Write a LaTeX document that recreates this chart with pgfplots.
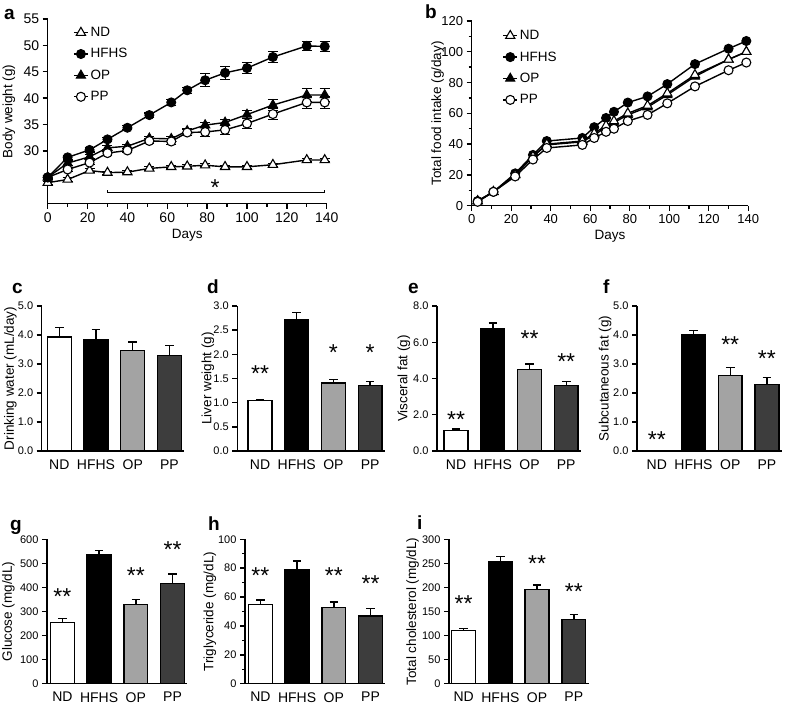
\documentclass[border=0pt]{standalone}
\usepackage{pgfplots}
\usepackage{pgfplotstable}
\pgfplotsset{compat=1.18}
\usepackage{fontspec}
\setmainfont{Liberation Sans}
\definecolor{opgray}{HTML}{A3A3A3}
\definecolor{ppgray}{HTML}{3D3D3D}
\newcommand{\fs}[1]{\fontsize{#1}{#1}\selectfont}
\tikzset{sigstar/.style={font=\fs{23}, anchor=base, yshift=-12.5pt, inner sep=0pt}}
\pgfplotsset{
  base/.style={
    scale only axis, anchor=south west, clip=false,
    axis x line*=bottom, axis y line*=left,
    axis line style={line width=1.4pt, black},
    tick style={line width=1.4pt, black},
    tick align=outside, major tick length=5pt, minor tick length=3pt,
    /pgf/number format/assume math mode=true,
    ticklabel style={font=\fs{13.5}},
    label style={font=\fs{13.5}},
    ylabel style={anchor=center},
  },
  ndst/.style={black, line width=1.4pt, mark=triangle*, mark size=5.3pt, mark options={fill=white, line width=1.1pt, solid}},
  hfst/.style={black, line width=1.4pt, mark=*, mark size=4.5pt, mark options={fill=black, line width=1pt}},
  opst/.style={black, line width=1.4pt, mark=triangle*, mark size=5.3pt, mark options={fill=black, line width=1pt}},
  ppst/.style={black, line width=1.4pt, mark=*, mark size=4.5pt, mark options={fill=white, line width=1.1pt}},
  errst/.style={error bars/.cd, y dir=both, y explicit, error bar style={line width=1.1pt, black}, error mark options={rotate=90, mark size=5pt, line width=1.1pt, black}},
  linep/.style={base,
    xmin=0, xmax=140, xtick={0,20,...,140}, minor xtick={10,30,...,130},
    xlabel={Days},
    legend cell align=left,
    legend image code/.code={\draw[mark repeat=2,mark phase=2,##1] plot coordinates {(0pt,0pt) (7pt,0pt) (14pt,0pt)};},
    legend style={draw=none, fill=none, anchor=north west, font=\fs{13.5}, row sep=6.5pt,
      /tikz/every even column/.append style={column sep=7pt}},
  },
  barp/.style={base, ybar, bar width=0.65, bar shift=0pt, height=145pt, ymin=0, xmax=3.4,
    xtick={0,1,2,3}, xticklabels={ND,HFHS,OP,PP}, xtick style={draw=none},
    yticklabel style={font=\fs{11}}, xticklabel style={font=\fs{14}},
  },
  bst/.style={draw=black, line width=1.4pt, fill=#1,
    error bars/.cd, y dir=plus, y explicit, error bar style={line width=1.4pt, black},
    error mark options={rotate=90, mark size=4.3pt, line width=1.4pt, black}},
  dec/.style={yticklabel style={/pgf/number format/.cd, fixed, fixed zerofill, precision=1}},
}
\pgfplotstableread{
day nd end hf ehf op eop pp epp
0 24.0 0.3 25.0 0.3 25.0 0.3 25.0 0.3
10 24.6 0.3 28.8 0.4 27.7 0.4 26.5 0.4
21 26.3 0.3 30.2 0.4 28.9 0.4 27.8 0.4
30 25.9 0.3 32.2 0.4 30.6 0.4 29.6 0.4
40 26.0 0.3 34.4 0.4 30.9 0.4 30.1 0.4
51 26.7 0.3 36.8 0.4 32.4 0.4 31.9 0.4
62 27.0 0.3 39.2 0.5 32.3 0.5 31.8 0.6
70 27.1 0.3 41.5 0.6 33.8 0.5 33.5 0.6
79 27.3 0.3 43.4 1.2 34.9 0.5 33.6 0.8
89 27.0 0.3 44.8 1.2 35.4 0.6 34.0 0.8
100 27.0 0.3 45.7 1.1 36.9 0.8 35.2 0.9
113 27.4 0.3 47.8 1.0 38.7 1.0 37.0 1.0
130 28.3 0.3 49.9 0.9 40.6 1.2 39.2 1.1
139 28.3 0.3 49.8 0.9 40.6 1.2 39.2 1.1
}\dataA
\pgfplotstableread{
day nd hf op pp
3 3 3 3 2.5
11 9 9 9 9
22 20 21 20 19
31 32 33 32 30
38 40 42 39.5 37.5
56 42 44 41.5 39.5
62 47 51 46 44
68 52 57 51 48
72 55 61 54 50
79 60 67 59 55
89 65 71 64 59
99 73 79 72 66.5
113 85 92 84 77.5
130 95 102 95 88
139 100 107 100 93
}\dataB
\begin{document}
\begin{tikzpicture}[x=1pt,y=1pt]
\useasboundingbox (0,0) rectangle (787,709);
% ---------- a ----------
\begin{axis}[linep, at={(47.7pt,505.2pt)}, width=279pt, height=184.8pt,
  ymin=20, ymax=55, ytick={30,35,...,55},
  ticklabel style={font=\fs{14}},
  ylabel={Body weight (g)},
  ylabel style={at={(axis description cs:-0.139,0.5)}},
  legend style={at={(axis description cs:0.08,0.978)}},
]
\addlegendimage{ndst}\addlegendentry{ND}
\addlegendimage{hfst}\addlegendentry{HFHS}
\addlegendimage{opst}\addlegendentry{OP}
\addlegendimage{ppst}\addlegendentry{PP}
\addplot[forget plot, ndst, errst] table[x=day, y=nd, y error=end] {\dataA};
\addplot[forget plot, opst, errst] table[x=day, y=op, y error=eop] {\dataA};
\addplot[forget plot, ppst, errst] table[x=day, y=pp, y error=epp] {\dataA};
\addplot[forget plot, hfst, errst] table[x=day, y=hf, y error=ehf] {\dataA};
\draw[line width=1.3pt] (axis cs:30,22.6) -- (axis cs:30,22.1) -- (axis cs:139,22.1) -- (axis cs:139,22.6);
\node[sigstar] at (axis cs:84,23.9) {*};
\end{axis}
% ---------- b ----------
\begin{axis}[linep, at={(471.7pt,503.3pt)}, width=276.6pt, height=184.7pt,
  ymin=0, ymax=120, ytick={0,20,...,120}, minor ytick={10,30,...,110},
  ticklabel style={font=\fs{13}},
  ylabel={Total food intake (g/day)},
  ylabel style={at={(axis description cs:-0.123,0.5)}},
  legend style={at={(axis description cs:0.1,0.972)}},
]
\addlegendimage{ndst}\addlegendentry{ND}
\addlegendimage{hfst}\addlegendentry{HFHS}
\addlegendimage{opst}\addlegendentry{OP}
\addlegendimage{ppst}\addlegendentry{PP}
\addplot[forget plot, hfst] table[x=day, y=hf] {\dataB};
\addplot[forget plot, opst] table[x=day, y=op] {\dataB};
\addplot[forget plot, ndst] table[x=day, y=nd] {\dataB};
\addplot[forget plot, ppst] table[x=day, y=pp] {\dataB};
\end{axis}
% ---------- c ----------
\begin{axis}[barp, dec, at={(41.7pt,258pt)}, width=142.4pt, xmin=-0.48, xmax=3.4,
  ymax=5, ytick={0,1,...,5},
  ylabel={Drinking water (mL/day)},
  ylabel style={at={(axis description cs:-0.22,0.5)}}]
\addplot[bst=white] coordinates {(0,3.93) +- (0,0.32)};
\addplot[bst=black] coordinates {(1,3.85) +- (0,0.33)};
\addplot[bst=opgray] coordinates {(2,3.47) +- (0,0.29)};
\addplot[bst=ppgray] coordinates {(3,3.30) +- (0,0.33)};
\end{axis}
% ---------- d ----------
\begin{axis}[barp, dec, at={(237.3pt,258pt)}, width=147.5pt, xmin=-0.62, xmax=3.4,
  ymax=3, ytick={0,0.5,...,3},
  ylabel={Liver weight (g)},
  ylabel style={at={(axis description cs:-0.2,0.5)}}]
\addplot[bst=white] coordinates {(0,1.04) +- (0,0.03)};
\addplot[bst=black] coordinates {(1,2.71) +- (0,0.15)};
\addplot[bst=opgray] coordinates {(2,1.41) +- (0,0.07)};
\addplot[bst=ppgray] coordinates {(3,1.36) +- (0,0.08)};
\node[sigstar] at (axis cs:0,1.69) {**};
\node[sigstar] at (axis cs:2,2.14) {*};
\node[sigstar] at (axis cs:3,2.14) {*};
\end{axis}
% ---------- e ----------
\begin{axis}[barp, dec, at={(437pt,258pt)}, width=143.9pt, xmin=-0.52, xmax=3.4,
  ymax=8, ytick={0,2,...,8},
  ylabel={Visceral fat (g)},
  ylabel style={at={(axis description cs:-0.23,0.5)}}]
\addplot[bst=white] coordinates {(0,1.12) +- (0,0.09)};
\addplot[bst=black] coordinates {(1,6.77) +- (0,0.30)};
\addplot[bst=opgray] coordinates {(2,4.51) +- (0,0.28)};
\addplot[bst=ppgray] coordinates {(3,3.63) +- (0,0.19)};
\node[sigstar] at (axis cs:0,1.98) {**};
\node[sigstar] at (axis cs:2,6.48) {**};
\node[sigstar] at (axis cs:3,5.19) {**};
\end{axis}
% ---------- f ----------
\begin{axis}[barp, dec, at={(637pt,258pt)}, width=144.6pt, xmin=-0.54, xmax=3.4,
  ymax=5, ytick={0,1,...,5},
  ylabel={Subcutaneous fat (g)},
  ylabel style={at={(axis description cs:-0.22,0.5)}}]
\addplot[bst=white] coordinates {(0,0) +- (0,0)};
\addplot[bst=black] coordinates {(1,4.02) +- (0,0.14)};
\addplot[bst=opgray] coordinates {(2,2.61) +- (0,0.26)};
\addplot[bst=ppgray] coordinates {(3,2.30) +- (0,0.23)};
\node[sigstar] at (axis cs:0,0.55) {**};
\node[sigstar] at (axis cs:2,3.84) {**};
\node[sigstar] at (axis cs:3,3.33) {**};
\end{axis}
% ---------- g ----------
\begin{axis}[barp, at={(47pt,25.3pt)}, width=140.2pt, height=144.4pt, xmin=-0.42, xmax=3.4,
  ymax=600, ytick={0,100,...,600},
  ylabel={Glucose (mg/dL)},
  ylabel style={at={(axis description cs:-0.275,0.5)}}]
\addplot[bst=white] coordinates {(0,255) +- (0,17)};
\addplot[bst=black] coordinates {(1,535) +- (0,18)};
\addplot[bst=opgray] coordinates {(2,330) +- (0,20)};
\addplot[bst=ppgray] coordinates {(3,417) +- (0,39)};
\node[sigstar] at (axis cs:0,382) {**};
\node[sigstar] at (axis cs:2,468) {**};
\node[sigstar] at (axis cs:3,576) {**};
\end{axis}
% ---------- h ----------
\begin{axis}[barp, at={(245pt,25.3pt)}, width=140.2pt, height=144.4pt, xmin=-0.42, xmax=3.4,
  ymax=100, ytick={0,20,...,100}, minor ytick={10,30,...,90},
  ylabel={Triglyceride (mg/dL)},
  ylabel style={at={(axis description cs:-0.25,0.5)}}]
\addplot[bst=white] coordinates {(0,55) +- (0,3)};
\addplot[bst=black] coordinates {(1,78.8) +- (0,6.2)};
\addplot[bst=opgray] coordinates {(2,52.7) +- (0,3.9)};
\addplot[bst=ppgray] coordinates {(3,46.9) +- (0,5.1)};
\node[sigstar] at (axis cs:0,78) {**};
\node[sigstar] at (axis cs:2,78) {**};
\node[sigstar] at (axis cs:3,72.7) {**};
\end{axis}
% ---------- i ----------
\begin{axis}[barp, at={(449pt,25.3pt)}, width=139.5pt, height=144.4pt, xmin=-0.4, xmax=3.4,
  ymax=300, ytick={0,50,...,300},
  ylabel={Total cholesterol (mg/dL)},
  ylabel style={at={(axis description cs:-0.26,0.5)}}]
\addplot[bst=white] coordinates {(0,110) +- (0,4.6)};
\addplot[bst=black] coordinates {(1,253.5) +- (0,10.5)};
\addplot[bst=opgray] coordinates {(2,195.8) +- (0,9.2)};
\addplot[bst=ppgray] coordinates {(3,133) +- (0,11)};
\node[sigstar] at (axis cs:0,175) {**};
\node[sigstar] at (axis cs:2,260) {**};
\node[sigstar] at (axis cs:3,201) {**};
\end{axis}
% ---------- panel letters ----------
\begin{scope}[every node/.style={anchor=base west, inner sep=0pt, font=\fs{19}\bfseries}]
\node at (4,689.7) {a};
\node at (425,690.7) {b};
\node at (12,415) {c};
\node at (207,415) {d};
\node at (408,415) {e};
\node at (603,415) {f};
\node at (10,178.3) {g};
\node at (208,178.3) {h};
\node at (417,179) {i};
\end{scope}
\end{tikzpicture}
\end{document}
